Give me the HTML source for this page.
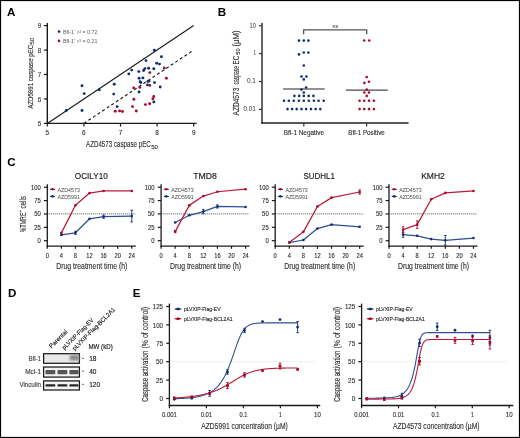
<!DOCTYPE html>
<html><head><meta charset="utf-8"><style>
html,body{margin:0;padding:0;background:#fff;}
svg{display:block;will-change:transform;}
text{font-family:"Liberation Sans", sans-serif;}
</style></head><body>
<svg width="520" height="438" viewBox="0 0 520 438">
<rect x="0" y="0" width="520" height="438" fill="#fff"/>
<text x="7.00" y="16.40" font-size="11.6" fill="#000" font-weight="bold">A</text>
<text x="217.80" y="16.40" font-size="11.6" fill="#000" font-weight="bold">B</text>
<text x="7.30" y="166.10" font-size="11.6" fill="#000" font-weight="bold">C</text>
<text x="8.10" y="297.10" font-size="11.6" fill="#000" font-weight="bold">D</text>
<text x="132.80" y="297.30" font-size="11.6" fill="#000" font-weight="bold">E</text>
<line x1="47.30" y1="23.00" x2="47.30" y2="124.10" stroke="#1a1a1a" stroke-width="1.4" />
<line x1="46.60" y1="123.40" x2="196.60" y2="123.40" stroke="#1a1a1a" stroke-width="1.4" />
<line x1="43.90" y1="123.40" x2="47.30" y2="123.40" stroke="#1a1a1a" stroke-width="1.2" />
<text x="39.50" y="126.15" font-size="7.6" stroke="#2e2e2e" stroke-width="0.12" textLength="3.50" lengthAdjust="spacingAndGlyphs" text-anchor="middle" fill="#2e2e2e">5</text>
<line x1="47.30" y1="123.40" x2="47.30" y2="126.60" stroke="#1a1a1a" stroke-width="1.2" />
<text x="47.30" y="134.90" font-size="7.4" stroke="#2e2e2e" stroke-width="0.12" textLength="3.60" lengthAdjust="spacingAndGlyphs" text-anchor="middle" fill="#2e2e2e">5</text>
<line x1="43.90" y1="98.95" x2="47.30" y2="98.95" stroke="#1a1a1a" stroke-width="1.2" />
<text x="39.50" y="101.70" font-size="7.6" stroke="#2e2e2e" stroke-width="0.12" textLength="3.50" lengthAdjust="spacingAndGlyphs" text-anchor="middle" fill="#2e2e2e">6</text>
<line x1="83.90" y1="123.40" x2="83.90" y2="126.60" stroke="#1a1a1a" stroke-width="1.2" />
<text x="83.90" y="134.90" font-size="7.4" stroke="#2e2e2e" stroke-width="0.12" textLength="3.60" lengthAdjust="spacingAndGlyphs" text-anchor="middle" fill="#2e2e2e">6</text>
<line x1="43.90" y1="74.50" x2="47.30" y2="74.50" stroke="#1a1a1a" stroke-width="1.2" />
<text x="39.50" y="77.25" font-size="7.6" stroke="#2e2e2e" stroke-width="0.12" textLength="3.50" lengthAdjust="spacingAndGlyphs" text-anchor="middle" fill="#2e2e2e">7</text>
<line x1="120.50" y1="123.40" x2="120.50" y2="126.60" stroke="#1a1a1a" stroke-width="1.2" />
<text x="120.50" y="134.90" font-size="7.4" stroke="#2e2e2e" stroke-width="0.12" textLength="3.60" lengthAdjust="spacingAndGlyphs" text-anchor="middle" fill="#2e2e2e">7</text>
<line x1="43.90" y1="50.05" x2="47.30" y2="50.05" stroke="#1a1a1a" stroke-width="1.2" />
<text x="39.50" y="52.80" font-size="7.6" stroke="#2e2e2e" stroke-width="0.12" textLength="3.50" lengthAdjust="spacingAndGlyphs" text-anchor="middle" fill="#2e2e2e">8</text>
<line x1="157.10" y1="123.40" x2="157.10" y2="126.60" stroke="#1a1a1a" stroke-width="1.2" />
<text x="157.10" y="134.90" font-size="7.4" stroke="#2e2e2e" stroke-width="0.12" textLength="3.60" lengthAdjust="spacingAndGlyphs" text-anchor="middle" fill="#2e2e2e">8</text>
<line x1="43.90" y1="25.60" x2="47.30" y2="25.60" stroke="#1a1a1a" stroke-width="1.2" />
<text x="39.50" y="28.35" font-size="7.6" stroke="#2e2e2e" stroke-width="0.12" textLength="3.50" lengthAdjust="spacingAndGlyphs" text-anchor="middle" fill="#2e2e2e">9</text>
<line x1="193.70" y1="123.40" x2="193.70" y2="126.60" stroke="#1a1a1a" stroke-width="1.2" />
<text x="193.70" y="134.90" font-size="7.4" stroke="#2e2e2e" stroke-width="0.12" textLength="3.60" lengthAdjust="spacingAndGlyphs" text-anchor="middle" fill="#2e2e2e">9</text>
<line x1="47.30" y1="123.40" x2="193.70" y2="25.60" stroke="#1a1a1a" stroke-width="1.15" />
<line x1="83.90" y1="123.40" x2="193.70" y2="50.05" stroke="#1a1a1a" stroke-width="1.15" stroke-dasharray="3.0,2.5"/>
<text x="86.00" y="147.10" font-size="9.0" stroke="#2e2e2e" stroke-width="0.12" textLength="64.80" lengthAdjust="spacingAndGlyphs" fill="#2e2e2e">AZD4573 caspase pEC</text>
<text x="151.20" y="148.60" font-size="5.6" stroke="#2e2e2e" stroke-width="0.12" textLength="6.80" lengthAdjust="spacingAndGlyphs" fill="#2e2e2e">50</text>
<text x="32.80" y="108.80" font-size="8.0" stroke="#2e2e2e" stroke-width="0.12" textLength="64.00" lengthAdjust="spacingAndGlyphs" fill="#2e2e2e" transform="rotate(-90 32.80 108.80)">AZD5991 caspase pEC</text>
<text x="34.40" y="44.80" font-size="5.4" stroke="#2e2e2e" stroke-width="0.12" textLength="7.00" lengthAdjust="spacingAndGlyphs" fill="#2e2e2e" transform="rotate(-90 34.40 44.80)">50</text>
<circle cx="59.00" cy="31.60" r="1.3" fill="#122c70"/>
<circle cx="59.00" cy="40.90" r="1.3" fill="#a50a2a"/>
<text x="62.90" y="33.60" font-size="5.6" textLength="34.60" lengthAdjust="spacingAndGlyphs" fill="#5c5c5c">Bfl-1⁻ r² = 0.72</text>
<text x="62.90" y="42.90" font-size="5.6" textLength="34.60" lengthAdjust="spacingAndGlyphs" fill="#5c5c5c">Bfl-1⁺ r² = 0.21</text>
<circle cx="66.30" cy="110.50" r="1.45" fill="#122c70"/>
<circle cx="82.00" cy="85.70" r="1.45" fill="#122c70"/>
<circle cx="84.20" cy="93.60" r="1.45" fill="#122c70"/>
<circle cx="82.00" cy="110.50" r="1.45" fill="#122c70"/>
<circle cx="99.30" cy="89.80" r="1.45" fill="#122c70"/>
<circle cx="114.20" cy="84.20" r="1.45" fill="#122c70"/>
<circle cx="113.70" cy="94.10" r="1.45" fill="#122c70"/>
<circle cx="117.10" cy="106.60" r="1.45" fill="#122c70"/>
<circle cx="154.30" cy="50.30" r="1.45" fill="#122c70"/>
<circle cx="161.40" cy="56.70" r="1.45" fill="#122c70"/>
<circle cx="146.00" cy="60.60" r="1.45" fill="#122c70"/>
<circle cx="156.70" cy="63.30" r="1.45" fill="#122c70"/>
<circle cx="159.50" cy="64.10" r="1.45" fill="#122c70"/>
<circle cx="131.70" cy="70.10" r="1.45" fill="#122c70"/>
<circle cx="128.80" cy="73.90" r="1.45" fill="#122c70"/>
<circle cx="138.80" cy="71.60" r="1.45" fill="#122c70"/>
<circle cx="143.60" cy="70.50" r="1.45" fill="#122c70"/>
<circle cx="144.90" cy="68.60" r="1.45" fill="#122c70"/>
<circle cx="148.60" cy="68.30" r="1.45" fill="#122c70"/>
<circle cx="153.80" cy="68.80" r="1.45" fill="#122c70"/>
<circle cx="139.10" cy="78.20" r="1.45" fill="#122c70"/>
<circle cx="142.90" cy="77.90" r="1.45" fill="#122c70"/>
<circle cx="140.10" cy="81.80" r="1.45" fill="#122c70"/>
<circle cx="140.90" cy="82.60" r="1.45" fill="#122c70"/>
<circle cx="147.90" cy="81.40" r="1.45" fill="#122c70"/>
<circle cx="149.10" cy="81.10" r="1.45" fill="#122c70"/>
<circle cx="154.50" cy="82.60" r="1.45" fill="#122c70"/>
<circle cx="147.40" cy="84.90" r="1.45" fill="#122c70"/>
<circle cx="160.20" cy="87.00" r="1.45" fill="#122c70"/>
<circle cx="139.10" cy="92.00" r="1.45" fill="#122c70"/>
<circle cx="153.80" cy="102.00" r="1.45" fill="#122c70"/>
<circle cx="115.20" cy="111.20" r="1.45" fill="#a50a2a"/>
<circle cx="119.60" cy="110.90" r="1.45" fill="#a50a2a"/>
<circle cx="122.50" cy="111.50" r="1.45" fill="#a50a2a"/>
<circle cx="149.80" cy="72.60" r="1.45" fill="#a50a2a"/>
<circle cx="164.30" cy="68.00" r="1.45" fill="#a50a2a"/>
<circle cx="166.40" cy="78.20" r="1.45" fill="#a50a2a"/>
<circle cx="149.80" cy="85.40" r="1.45" fill="#a50a2a"/>
<circle cx="133.80" cy="87.90" r="1.45" fill="#a50a2a"/>
<circle cx="139.80" cy="87.40" r="1.45" fill="#a50a2a"/>
<circle cx="153.80" cy="96.50" r="1.45" fill="#a50a2a"/>
<circle cx="152.90" cy="98.80" r="1.45" fill="#a50a2a"/>
<circle cx="133.90" cy="99.30" r="1.45" fill="#a50a2a"/>
<circle cx="145.40" cy="104.60" r="1.45" fill="#a50a2a"/>
<circle cx="149.60" cy="103.70" r="1.45" fill="#a50a2a"/>
<circle cx="132.50" cy="106.60" r="1.45" fill="#a50a2a"/>
<circle cx="136.30" cy="111.00" r="1.45" fill="#a50a2a"/>
<line x1="262.00" y1="23.00" x2="262.00" y2="123.80" stroke="#333" stroke-width="1.5" />
<line x1="261.30" y1="123.10" x2="408.60" y2="123.10" stroke="#222" stroke-width="1.5" />
<line x1="259.00" y1="25.79" x2="262.00" y2="25.79" stroke="#333" stroke-width="1.2" />
<text x="249.50" y="27.59" font-size="6.6" stroke="#444" stroke-width="0.04" textLength="6.40" lengthAdjust="spacingAndGlyphs" fill="#444">10</text>
<line x1="259.00" y1="53.66" x2="262.00" y2="53.66" stroke="#333" stroke-width="1.2" />
<text x="253.50" y="55.46" font-size="6.6" stroke="#444" stroke-width="0.04" textLength="2.40" lengthAdjust="spacingAndGlyphs" fill="#444">1</text>
<line x1="259.00" y1="81.53" x2="262.00" y2="81.53" stroke="#333" stroke-width="1.2" />
<text x="246.90" y="83.33" font-size="6.6" stroke="#444" stroke-width="0.04" textLength="9.00" lengthAdjust="spacingAndGlyphs" fill="#444">0.1</text>
<line x1="259.00" y1="109.40" x2="262.00" y2="109.40" stroke="#333" stroke-width="1.2" />
<text x="243.50" y="111.20" font-size="6.6" stroke="#444" stroke-width="0.04" textLength="12.40" lengthAdjust="spacingAndGlyphs" fill="#444">0.01</text>
<line x1="303.80" y1="123.10" x2="303.80" y2="126.60" stroke="#333" stroke-width="1.2" />
<line x1="366.60" y1="123.10" x2="366.60" y2="126.60" stroke="#333" stroke-width="1.2" />
<text x="283.80" y="134.80" font-size="6.6" stroke="#2e2e2e" stroke-width="0.12" textLength="40.20" lengthAdjust="spacingAndGlyphs" fill="#2e2e2e">Bfl-1 Negative</text>
<text x="348.30" y="134.80" font-size="6.6" stroke="#2e2e2e" stroke-width="0.12" textLength="36.50" lengthAdjust="spacingAndGlyphs" fill="#2e2e2e">Bfl-1 Positive</text>
<text x="238.90" y="115.50" font-size="8.9" stroke="#2e2e2e" stroke-width="0.12" textLength="27.80" lengthAdjust="spacingAndGlyphs" fill="#2e2e2e" transform="rotate(-90 238.90 115.50)">AZD4573</text>
<text x="238.90" y="84.40" font-size="8.9" stroke="#2e2e2e" stroke-width="0.12" textLength="18.30" lengthAdjust="spacingAndGlyphs" fill="#2e2e2e" transform="rotate(-90 238.90 84.40)">caspase</text>
<text x="238.90" y="64.40" font-size="8.9" stroke="#2e2e2e" stroke-width="0.12" textLength="8.60" lengthAdjust="spacingAndGlyphs" fill="#2e2e2e" transform="rotate(-90 238.90 64.40)">EC</text>
<path d="M303.6 34.2 V29.9 H366.7 V34.2" fill="none" stroke="#555" stroke-width="1.3"/>
<text x="335.30" y="27.90" font-size="5.4" stroke="#555" stroke-width="0.12" textLength="5.40" lengthAdjust="spacingAndGlyphs" text-anchor="middle" fill="#555">ns</text>
<line x1="283.10" y1="88.90" x2="324.60" y2="88.90" stroke="#6e6e6e" stroke-width="1.5" />
<line x1="346.00" y1="90.10" x2="387.80" y2="90.10" stroke="#484848" stroke-width="1.4" />
<circle cx="299.00" cy="40.60" r="1.3" fill="#122c70"/>
<circle cx="303.80" cy="40.60" r="1.3" fill="#122c70"/>
<circle cx="308.40" cy="40.60" r="1.3" fill="#122c70"/>
<circle cx="303.80" cy="52.50" r="1.3" fill="#122c70"/>
<circle cx="308.40" cy="52.50" r="1.3" fill="#122c70"/>
<circle cx="299.00" cy="54.40" r="1.3" fill="#122c70"/>
<circle cx="303.80" cy="65.50" r="1.3" fill="#122c70"/>
<circle cx="301.50" cy="76.50" r="1.3" fill="#122c70"/>
<circle cx="306.40" cy="76.50" r="1.3" fill="#122c70"/>
<circle cx="303.80" cy="79.40" r="1.3" fill="#122c70"/>
<circle cx="306.10" cy="87.50" r="1.3" fill="#122c70"/>
<circle cx="301.50" cy="89.60" r="1.3" fill="#122c70"/>
<circle cx="303.80" cy="92.50" r="1.3" fill="#122c70"/>
<circle cx="294.40" cy="95.90" r="1.3" fill="#122c70"/>
<circle cx="299.20" cy="95.90" r="1.3" fill="#122c70"/>
<circle cx="303.80" cy="95.90" r="1.3" fill="#122c70"/>
<circle cx="308.70" cy="95.90" r="1.3" fill="#122c70"/>
<circle cx="313.40" cy="95.90" r="1.3" fill="#122c70"/>
<circle cx="284.00" cy="100.80" r="1.3" fill="#122c70"/>
<circle cx="288.80" cy="100.80" r="1.3" fill="#122c70"/>
<circle cx="293.80" cy="100.80" r="1.3" fill="#122c70"/>
<circle cx="298.90" cy="100.80" r="1.3" fill="#122c70"/>
<circle cx="303.80" cy="100.80" r="1.3" fill="#122c70"/>
<circle cx="308.80" cy="100.80" r="1.3" fill="#122c70"/>
<circle cx="313.90" cy="100.80" r="1.3" fill="#122c70"/>
<circle cx="318.60" cy="100.80" r="1.3" fill="#122c70"/>
<circle cx="323.70" cy="100.80" r="1.3" fill="#122c70"/>
<circle cx="287.50" cy="109.10" r="1.3" fill="#122c70"/>
<circle cx="292.10" cy="109.10" r="1.3" fill="#122c70"/>
<circle cx="296.70" cy="109.10" r="1.3" fill="#122c70"/>
<circle cx="301.50" cy="109.10" r="1.3" fill="#122c70"/>
<circle cx="306.10" cy="109.10" r="1.3" fill="#122c70"/>
<circle cx="311.00" cy="109.10" r="1.3" fill="#122c70"/>
<circle cx="315.60" cy="109.10" r="1.3" fill="#122c70"/>
<circle cx="320.30" cy="109.10" r="1.3" fill="#122c70"/>
<circle cx="364.20" cy="40.50" r="1.3" fill="#a50a2a"/>
<circle cx="369.20" cy="40.50" r="1.3" fill="#a50a2a"/>
<circle cx="366.70" cy="77.10" r="1.3" fill="#a50a2a"/>
<circle cx="369.00" cy="81.70" r="1.3" fill="#a50a2a"/>
<circle cx="364.40" cy="82.90" r="1.3" fill="#a50a2a"/>
<circle cx="366.70" cy="89.60" r="1.3" fill="#a50a2a"/>
<circle cx="364.40" cy="92.50" r="1.3" fill="#a50a2a"/>
<circle cx="369.00" cy="92.50" r="1.3" fill="#a50a2a"/>
<circle cx="366.70" cy="95.90" r="1.3" fill="#a50a2a"/>
<circle cx="359.60" cy="100.80" r="1.3" fill="#a50a2a"/>
<circle cx="364.20" cy="100.80" r="1.3" fill="#a50a2a"/>
<circle cx="369.00" cy="100.80" r="1.3" fill="#a50a2a"/>
<circle cx="373.90" cy="100.80" r="1.3" fill="#a50a2a"/>
<circle cx="359.60" cy="109.10" r="1.3" fill="#a50a2a"/>
<circle cx="364.20" cy="109.10" r="1.3" fill="#a50a2a"/>
<circle cx="369.00" cy="109.10" r="1.3" fill="#a50a2a"/>
<circle cx="373.90" cy="109.10" r="1.3" fill="#a50a2a"/>
<text x="240.00" y="54.70" font-size="5.0" stroke="#2e2e2e" stroke-width="0.12" textLength="6.20" lengthAdjust="spacingAndGlyphs" fill="#2e2e2e" transform="rotate(-90 240.00 54.70)">50</text>
<text x="238.90" y="46.60" font-size="8.9" stroke="#2e2e2e" stroke-width="0.12" textLength="16.10" lengthAdjust="spacingAndGlyphs" fill="#2e2e2e" transform="rotate(-90 238.90 46.60)">(µM)</text>
<line x1="47.30" y1="184.30" x2="47.30" y2="246.70" stroke="#1a1a1a" stroke-width="1.3" />
<line x1="46.70" y1="246.10" x2="135.80" y2="246.10" stroke="#1a1a1a" stroke-width="1.4" />
<line x1="43.90" y1="240.70" x2="47.30" y2="240.70" stroke="#1a1a1a" stroke-width="1.2" />
<text x="37.50" y="243.00" font-size="6.4" stroke="#2e2e2e" stroke-width="0.12" textLength="3.30" lengthAdjust="spacingAndGlyphs" fill="#2e2e2e">0</text>
<line x1="43.90" y1="227.32" x2="47.30" y2="227.32" stroke="#1a1a1a" stroke-width="1.2" />
<text x="34.20" y="229.62" font-size="6.4" stroke="#2e2e2e" stroke-width="0.12" textLength="6.60" lengthAdjust="spacingAndGlyphs" fill="#2e2e2e">25</text>
<line x1="43.90" y1="213.95" x2="47.30" y2="213.95" stroke="#1a1a1a" stroke-width="1.2" />
<text x="34.20" y="216.25" font-size="6.4" stroke="#2e2e2e" stroke-width="0.12" textLength="6.60" lengthAdjust="spacingAndGlyphs" fill="#2e2e2e">50</text>
<line x1="43.90" y1="200.57" x2="47.30" y2="200.57" stroke="#1a1a1a" stroke-width="1.2" />
<text x="34.20" y="202.88" font-size="6.4" stroke="#2e2e2e" stroke-width="0.12" textLength="6.60" lengthAdjust="spacingAndGlyphs" fill="#2e2e2e">75</text>
<line x1="43.90" y1="187.20" x2="47.30" y2="187.20" stroke="#1a1a1a" stroke-width="1.2" />
<text x="31.00" y="189.50" font-size="6.4" stroke="#2e2e2e" stroke-width="0.12" textLength="9.80" lengthAdjust="spacingAndGlyphs" fill="#2e2e2e">100</text>
<line x1="47.30" y1="246.10" x2="47.30" y2="248.80" stroke="#1a1a1a" stroke-width="1.2" />
<text x="47.30" y="258.20" font-size="6.3" stroke="#2e2e2e" stroke-width="0.12" textLength="3.20" lengthAdjust="spacingAndGlyphs" text-anchor="middle" fill="#2e2e2e">0</text>
<line x1="61.38" y1="246.10" x2="61.38" y2="248.80" stroke="#1a1a1a" stroke-width="1.2" />
<text x="61.38" y="258.20" font-size="6.3" stroke="#2e2e2e" stroke-width="0.12" textLength="3.20" lengthAdjust="spacingAndGlyphs" text-anchor="middle" fill="#2e2e2e">4</text>
<line x1="75.46" y1="246.10" x2="75.46" y2="248.80" stroke="#1a1a1a" stroke-width="1.2" />
<text x="75.46" y="258.20" font-size="6.3" stroke="#2e2e2e" stroke-width="0.12" textLength="3.20" lengthAdjust="spacingAndGlyphs" text-anchor="middle" fill="#2e2e2e">8</text>
<line x1="89.54" y1="246.10" x2="89.54" y2="248.80" stroke="#1a1a1a" stroke-width="1.2" />
<text x="89.54" y="258.20" font-size="6.3" stroke="#2e2e2e" stroke-width="0.12" textLength="6.40" lengthAdjust="spacingAndGlyphs" text-anchor="middle" fill="#2e2e2e">12</text>
<line x1="103.62" y1="246.10" x2="103.62" y2="248.80" stroke="#1a1a1a" stroke-width="1.2" />
<text x="103.62" y="258.20" font-size="6.3" stroke="#2e2e2e" stroke-width="0.12" textLength="6.40" lengthAdjust="spacingAndGlyphs" text-anchor="middle" fill="#2e2e2e">16</text>
<line x1="117.70" y1="246.10" x2="117.70" y2="248.80" stroke="#1a1a1a" stroke-width="1.2" />
<text x="117.70" y="258.20" font-size="6.3" stroke="#2e2e2e" stroke-width="0.12" textLength="6.40" lengthAdjust="spacingAndGlyphs" text-anchor="middle" fill="#2e2e2e">20</text>
<line x1="131.78" y1="246.10" x2="131.78" y2="248.80" stroke="#1a1a1a" stroke-width="1.2" />
<text x="131.78" y="258.20" font-size="6.3" stroke="#2e2e2e" stroke-width="0.12" textLength="6.40" lengthAdjust="spacingAndGlyphs" text-anchor="middle" fill="#2e2e2e">24</text>
<text x="91.30" y="179.20" font-size="8.9" stroke="#1e1e1e" stroke-width="0.18" textLength="33.00" lengthAdjust="spacingAndGlyphs" text-anchor="middle" fill="#1e1e1e">OCILY10</text>
<text x="56.30" y="268.80" font-size="8.2" stroke="#2e2e2e" stroke-width="0.12" textLength="71.00" lengthAdjust="spacingAndGlyphs" fill="#2e2e2e">Drug treatment time (h)</text>
<line x1="48.70" y1="213.95" x2="135.30" y2="213.95" stroke="#707070" stroke-width="1.3" stroke-dasharray="1,1"/>
<line x1="50.10" y1="189.30" x2="55.00" y2="189.30" stroke="#a50a2a" stroke-width="1.0" />
<path d="M49.90 189.3 L52.50 188.0 L55.10 189.3 L52.50 190.60000000000002Z" fill="#a50a2a"/>
<text x="57.50" y="191.80" font-size="6.0" textLength="22.40" lengthAdjust="spacingAndGlyphs" fill="#474747">AZD4573</text>
<line x1="50.10" y1="196.40" x2="55.00" y2="196.40" stroke="#122c70" stroke-width="1.0" />
<path d="M49.90 196.4 L52.50 195.1 L55.10 196.4 L52.50 197.70000000000002Z" fill="#122c70"/>
<text x="57.50" y="198.90" font-size="6.0" textLength="22.40" lengthAdjust="spacingAndGlyphs" fill="#474747">AZD5991</text>
<polyline points="61.38,234.92 75.46,232.78 89.54,218.76 103.62,216.62 131.78,216.09" fill="none" stroke="#2f4f92" stroke-width="1.25" stroke-linejoin="round" />
<circle cx="61.38" cy="234.92" r="1.3" fill="#122c70"/>
<line x1="75.46" y1="231.18" x2="75.46" y2="234.39" stroke="#122c70" stroke-width="0.9" />
<line x1="74.26" y1="231.18" x2="76.66" y2="231.18" stroke="#122c70" stroke-width="0.9" />
<line x1="74.26" y1="234.39" x2="76.66" y2="234.39" stroke="#122c70" stroke-width="0.9" />
<circle cx="75.46" cy="232.78" r="1.3" fill="#122c70"/>
<circle cx="89.54" cy="218.76" r="1.3" fill="#122c70"/>
<line x1="103.62" y1="215.02" x2="103.62" y2="218.23" stroke="#122c70" stroke-width="0.9" />
<line x1="102.42" y1="215.02" x2="104.82" y2="215.02" stroke="#122c70" stroke-width="0.9" />
<line x1="102.42" y1="218.23" x2="104.82" y2="218.23" stroke="#122c70" stroke-width="0.9" />
<circle cx="103.62" cy="216.62" r="1.3" fill="#122c70"/>
<line x1="131.78" y1="210.20" x2="131.78" y2="221.97" stroke="#122c70" stroke-width="0.9" />
<line x1="130.58" y1="210.20" x2="132.98" y2="210.20" stroke="#122c70" stroke-width="0.9" />
<line x1="130.58" y1="221.97" x2="132.98" y2="221.97" stroke="#122c70" stroke-width="0.9" />
<circle cx="131.78" cy="216.09" r="1.3" fill="#122c70"/>
<polyline points="61.38,232.89 75.46,205.23 89.54,193.08 103.62,190.94 131.78,190.94" fill="none" stroke="#bd1a3c" stroke-width="1.25" stroke-linejoin="round" />
<circle cx="61.38" cy="232.89" r="1.3" fill="#a50a2a"/>
<circle cx="75.46" cy="205.23" r="1.3" fill="#a50a2a"/>
<circle cx="89.54" cy="193.08" r="1.3" fill="#a50a2a"/>
<circle cx="103.62" cy="190.94" r="1.3" fill="#a50a2a"/>
<circle cx="131.78" cy="190.94" r="1.3" fill="#a50a2a"/>
<line x1="161.10" y1="184.30" x2="161.10" y2="246.70" stroke="#1a1a1a" stroke-width="1.3" />
<line x1="160.50" y1="246.10" x2="249.60" y2="246.10" stroke="#1a1a1a" stroke-width="1.4" />
<line x1="157.70" y1="240.70" x2="161.10" y2="240.70" stroke="#1a1a1a" stroke-width="1.2" />
<text x="151.30" y="243.00" font-size="6.4" stroke="#2e2e2e" stroke-width="0.12" textLength="3.30" lengthAdjust="spacingAndGlyphs" fill="#2e2e2e">0</text>
<line x1="157.70" y1="227.32" x2="161.10" y2="227.32" stroke="#1a1a1a" stroke-width="1.2" />
<text x="148.00" y="229.62" font-size="6.4" stroke="#2e2e2e" stroke-width="0.12" textLength="6.60" lengthAdjust="spacingAndGlyphs" fill="#2e2e2e">25</text>
<line x1="157.70" y1="213.95" x2="161.10" y2="213.95" stroke="#1a1a1a" stroke-width="1.2" />
<text x="148.00" y="216.25" font-size="6.4" stroke="#2e2e2e" stroke-width="0.12" textLength="6.60" lengthAdjust="spacingAndGlyphs" fill="#2e2e2e">50</text>
<line x1="157.70" y1="200.57" x2="161.10" y2="200.57" stroke="#1a1a1a" stroke-width="1.2" />
<text x="148.00" y="202.88" font-size="6.4" stroke="#2e2e2e" stroke-width="0.12" textLength="6.60" lengthAdjust="spacingAndGlyphs" fill="#2e2e2e">75</text>
<line x1="157.70" y1="187.20" x2="161.10" y2="187.20" stroke="#1a1a1a" stroke-width="1.2" />
<text x="144.80" y="189.50" font-size="6.4" stroke="#2e2e2e" stroke-width="0.12" textLength="9.80" lengthAdjust="spacingAndGlyphs" fill="#2e2e2e">100</text>
<line x1="161.10" y1="246.10" x2="161.10" y2="248.80" stroke="#1a1a1a" stroke-width="1.2" />
<text x="161.10" y="258.20" font-size="6.3" stroke="#2e2e2e" stroke-width="0.12" textLength="3.20" lengthAdjust="spacingAndGlyphs" text-anchor="middle" fill="#2e2e2e">0</text>
<line x1="175.18" y1="246.10" x2="175.18" y2="248.80" stroke="#1a1a1a" stroke-width="1.2" />
<text x="175.18" y="258.20" font-size="6.3" stroke="#2e2e2e" stroke-width="0.12" textLength="3.20" lengthAdjust="spacingAndGlyphs" text-anchor="middle" fill="#2e2e2e">4</text>
<line x1="189.26" y1="246.10" x2="189.26" y2="248.80" stroke="#1a1a1a" stroke-width="1.2" />
<text x="189.26" y="258.20" font-size="6.3" stroke="#2e2e2e" stroke-width="0.12" textLength="3.20" lengthAdjust="spacingAndGlyphs" text-anchor="middle" fill="#2e2e2e">8</text>
<line x1="203.34" y1="246.10" x2="203.34" y2="248.80" stroke="#1a1a1a" stroke-width="1.2" />
<text x="203.34" y="258.20" font-size="6.3" stroke="#2e2e2e" stroke-width="0.12" textLength="6.40" lengthAdjust="spacingAndGlyphs" text-anchor="middle" fill="#2e2e2e">12</text>
<line x1="217.42" y1="246.10" x2="217.42" y2="248.80" stroke="#1a1a1a" stroke-width="1.2" />
<text x="217.42" y="258.20" font-size="6.3" stroke="#2e2e2e" stroke-width="0.12" textLength="6.40" lengthAdjust="spacingAndGlyphs" text-anchor="middle" fill="#2e2e2e">16</text>
<line x1="231.50" y1="246.10" x2="231.50" y2="248.80" stroke="#1a1a1a" stroke-width="1.2" />
<text x="231.50" y="258.20" font-size="6.3" stroke="#2e2e2e" stroke-width="0.12" textLength="6.40" lengthAdjust="spacingAndGlyphs" text-anchor="middle" fill="#2e2e2e">20</text>
<line x1="245.58" y1="246.10" x2="245.58" y2="248.80" stroke="#1a1a1a" stroke-width="1.2" />
<text x="245.58" y="258.20" font-size="6.3" stroke="#2e2e2e" stroke-width="0.12" textLength="6.40" lengthAdjust="spacingAndGlyphs" text-anchor="middle" fill="#2e2e2e">24</text>
<text x="205.10" y="179.20" font-size="8.9" stroke="#1e1e1e" stroke-width="0.18" textLength="23.70" lengthAdjust="spacingAndGlyphs" text-anchor="middle" fill="#1e1e1e">TMD8</text>
<text x="170.10" y="268.80" font-size="8.2" stroke="#2e2e2e" stroke-width="0.12" textLength="71.00" lengthAdjust="spacingAndGlyphs" fill="#2e2e2e">Drug treatment time (h)</text>
<line x1="162.70" y1="213.95" x2="249.10" y2="213.95" stroke="#707070" stroke-width="1.3" stroke-dasharray="1,1"/>
<line x1="163.90" y1="189.30" x2="168.80" y2="189.30" stroke="#a50a2a" stroke-width="1.0" />
<path d="M163.70 189.3 L166.30 188.0 L168.90 189.3 L166.30 190.60000000000002Z" fill="#a50a2a"/>
<text x="171.30" y="191.80" font-size="6.0" textLength="22.40" lengthAdjust="spacingAndGlyphs" fill="#474747">AZD4573</text>
<line x1="163.90" y1="196.40" x2="168.80" y2="196.40" stroke="#122c70" stroke-width="1.0" />
<path d="M163.70 196.4 L166.30 195.1 L168.90 196.4 L166.30 197.70000000000002Z" fill="#122c70"/>
<text x="171.30" y="198.90" font-size="6.0" textLength="22.40" lengthAdjust="spacingAndGlyphs" fill="#474747">AZD5991</text>
<polyline points="175.18,222.51 189.26,215.29 203.34,211.54 217.42,206.46 245.58,206.99" fill="none" stroke="#2f4f92" stroke-width="1.25" stroke-linejoin="round" />
<circle cx="175.18" cy="222.51" r="1.3" fill="#122c70"/>
<circle cx="189.26" cy="215.29" r="1.3" fill="#122c70"/>
<line x1="203.34" y1="209.40" x2="203.34" y2="213.68" stroke="#122c70" stroke-width="0.9" />
<line x1="202.14" y1="209.40" x2="204.54" y2="209.40" stroke="#122c70" stroke-width="0.9" />
<line x1="202.14" y1="213.68" x2="204.54" y2="213.68" stroke="#122c70" stroke-width="0.9" />
<circle cx="203.34" cy="211.54" r="1.3" fill="#122c70"/>
<line x1="217.42" y1="204.85" x2="217.42" y2="208.06" stroke="#122c70" stroke-width="0.9" />
<line x1="216.22" y1="204.85" x2="218.62" y2="204.85" stroke="#122c70" stroke-width="0.9" />
<line x1="216.22" y1="208.06" x2="218.62" y2="208.06" stroke="#122c70" stroke-width="0.9" />
<circle cx="217.42" cy="206.46" r="1.3" fill="#122c70"/>
<circle cx="245.58" cy="206.99" r="1.3" fill="#122c70"/>
<polyline points="175.18,231.60 189.26,205.39 203.34,196.03 217.42,191.75 245.58,189.18" fill="none" stroke="#bd1a3c" stroke-width="1.25" stroke-linejoin="round" />
<line x1="175.18" y1="230.53" x2="175.18" y2="232.67" stroke="#a50a2a" stroke-width="0.9" />
<line x1="173.98" y1="230.53" x2="176.38" y2="230.53" stroke="#a50a2a" stroke-width="0.9" />
<line x1="173.98" y1="232.67" x2="176.38" y2="232.67" stroke="#a50a2a" stroke-width="0.9" />
<circle cx="175.18" cy="231.60" r="1.3" fill="#a50a2a"/>
<circle cx="189.26" cy="205.39" r="1.3" fill="#a50a2a"/>
<circle cx="203.34" cy="196.03" r="1.3" fill="#a50a2a"/>
<circle cx="217.42" cy="191.75" r="1.3" fill="#a50a2a"/>
<circle cx="245.58" cy="189.18" r="1.3" fill="#a50a2a"/>
<line x1="275.20" y1="184.30" x2="275.20" y2="246.70" stroke="#1a1a1a" stroke-width="1.3" />
<line x1="274.60" y1="246.10" x2="363.70" y2="246.10" stroke="#1a1a1a" stroke-width="1.4" />
<line x1="271.80" y1="240.70" x2="275.20" y2="240.70" stroke="#1a1a1a" stroke-width="1.2" />
<text x="265.40" y="243.00" font-size="6.4" stroke="#2e2e2e" stroke-width="0.12" textLength="3.30" lengthAdjust="spacingAndGlyphs" fill="#2e2e2e">0</text>
<line x1="271.80" y1="227.32" x2="275.20" y2="227.32" stroke="#1a1a1a" stroke-width="1.2" />
<text x="262.10" y="229.62" font-size="6.4" stroke="#2e2e2e" stroke-width="0.12" textLength="6.60" lengthAdjust="spacingAndGlyphs" fill="#2e2e2e">25</text>
<line x1="271.80" y1="213.95" x2="275.20" y2="213.95" stroke="#1a1a1a" stroke-width="1.2" />
<text x="262.10" y="216.25" font-size="6.4" stroke="#2e2e2e" stroke-width="0.12" textLength="6.60" lengthAdjust="spacingAndGlyphs" fill="#2e2e2e">50</text>
<line x1="271.80" y1="200.57" x2="275.20" y2="200.57" stroke="#1a1a1a" stroke-width="1.2" />
<text x="262.10" y="202.88" font-size="6.4" stroke="#2e2e2e" stroke-width="0.12" textLength="6.60" lengthAdjust="spacingAndGlyphs" fill="#2e2e2e">75</text>
<line x1="271.80" y1="187.20" x2="275.20" y2="187.20" stroke="#1a1a1a" stroke-width="1.2" />
<text x="258.90" y="189.50" font-size="6.4" stroke="#2e2e2e" stroke-width="0.12" textLength="9.80" lengthAdjust="spacingAndGlyphs" fill="#2e2e2e">100</text>
<line x1="275.20" y1="246.10" x2="275.20" y2="248.80" stroke="#1a1a1a" stroke-width="1.2" />
<text x="275.20" y="258.20" font-size="6.3" stroke="#2e2e2e" stroke-width="0.12" textLength="3.20" lengthAdjust="spacingAndGlyphs" text-anchor="middle" fill="#2e2e2e">0</text>
<line x1="289.28" y1="246.10" x2="289.28" y2="248.80" stroke="#1a1a1a" stroke-width="1.2" />
<text x="289.28" y="258.20" font-size="6.3" stroke="#2e2e2e" stroke-width="0.12" textLength="3.20" lengthAdjust="spacingAndGlyphs" text-anchor="middle" fill="#2e2e2e">4</text>
<line x1="303.36" y1="246.10" x2="303.36" y2="248.80" stroke="#1a1a1a" stroke-width="1.2" />
<text x="303.36" y="258.20" font-size="6.3" stroke="#2e2e2e" stroke-width="0.12" textLength="3.20" lengthAdjust="spacingAndGlyphs" text-anchor="middle" fill="#2e2e2e">8</text>
<line x1="317.44" y1="246.10" x2="317.44" y2="248.80" stroke="#1a1a1a" stroke-width="1.2" />
<text x="317.44" y="258.20" font-size="6.3" stroke="#2e2e2e" stroke-width="0.12" textLength="6.40" lengthAdjust="spacingAndGlyphs" text-anchor="middle" fill="#2e2e2e">12</text>
<line x1="331.52" y1="246.10" x2="331.52" y2="248.80" stroke="#1a1a1a" stroke-width="1.2" />
<text x="331.52" y="258.20" font-size="6.3" stroke="#2e2e2e" stroke-width="0.12" textLength="6.40" lengthAdjust="spacingAndGlyphs" text-anchor="middle" fill="#2e2e2e">16</text>
<line x1="345.60" y1="246.10" x2="345.60" y2="248.80" stroke="#1a1a1a" stroke-width="1.2" />
<text x="345.60" y="258.20" font-size="6.3" stroke="#2e2e2e" stroke-width="0.12" textLength="6.40" lengthAdjust="spacingAndGlyphs" text-anchor="middle" fill="#2e2e2e">20</text>
<line x1="359.68" y1="246.10" x2="359.68" y2="248.80" stroke="#1a1a1a" stroke-width="1.2" />
<text x="359.68" y="258.20" font-size="6.3" stroke="#2e2e2e" stroke-width="0.12" textLength="6.40" lengthAdjust="spacingAndGlyphs" text-anchor="middle" fill="#2e2e2e">24</text>
<text x="319.20" y="179.20" font-size="8.9" stroke="#1e1e1e" stroke-width="0.18" textLength="31.50" lengthAdjust="spacingAndGlyphs" text-anchor="middle" fill="#1e1e1e">SUDHL1</text>
<text x="284.20" y="268.80" font-size="8.2" stroke="#2e2e2e" stroke-width="0.12" textLength="71.00" lengthAdjust="spacingAndGlyphs" fill="#2e2e2e">Drug treatment time (h)</text>
<line x1="276.70" y1="213.95" x2="363.20" y2="213.95" stroke="#707070" stroke-width="1.3" stroke-dasharray="1,1"/>
<line x1="278.00" y1="189.30" x2="282.90" y2="189.30" stroke="#a50a2a" stroke-width="1.0" />
<path d="M277.80 189.3 L280.40 188.0 L283.00 189.3 L280.40 190.60000000000002Z" fill="#a50a2a"/>
<text x="285.40" y="191.80" font-size="6.0" textLength="22.40" lengthAdjust="spacingAndGlyphs" fill="#474747">AZD4573</text>
<line x1="278.00" y1="196.40" x2="282.90" y2="196.40" stroke="#122c70" stroke-width="1.0" />
<path d="M277.80 196.4 L280.40 195.1 L283.00 196.4 L280.40 197.70000000000002Z" fill="#122c70"/>
<text x="285.40" y="198.90" font-size="6.0" textLength="22.40" lengthAdjust="spacingAndGlyphs" fill="#474747">AZD5991</text>
<polyline points="289.28,242.57 303.36,240.00 317.44,228.56 331.52,224.65 359.68,226.79" fill="none" stroke="#2f4f92" stroke-width="1.25" stroke-linejoin="round" />
<circle cx="289.28" cy="242.57" r="1.3" fill="#122c70"/>
<circle cx="303.36" cy="240.00" r="1.3" fill="#122c70"/>
<circle cx="317.44" cy="228.56" r="1.3" fill="#122c70"/>
<circle cx="331.52" cy="224.65" r="1.3" fill="#122c70"/>
<circle cx="359.68" cy="226.79" r="1.3" fill="#122c70"/>
<polyline points="289.28,242.57 303.36,231.87 317.44,206.46 331.52,197.63 359.68,192.01" fill="none" stroke="#bd1a3c" stroke-width="1.25" stroke-linejoin="round" />
<circle cx="289.28" cy="242.57" r="1.3" fill="#a50a2a"/>
<circle cx="303.36" cy="231.87" r="1.3" fill="#a50a2a"/>
<circle cx="317.44" cy="206.46" r="1.3" fill="#a50a2a"/>
<circle cx="331.52" cy="197.63" r="1.3" fill="#a50a2a"/>
<line x1="359.68" y1="189.88" x2="359.68" y2="194.15" stroke="#a50a2a" stroke-width="0.9" />
<line x1="358.48" y1="189.88" x2="360.88" y2="189.88" stroke="#a50a2a" stroke-width="0.9" />
<line x1="358.48" y1="194.15" x2="360.88" y2="194.15" stroke="#a50a2a" stroke-width="0.9" />
<circle cx="359.68" cy="192.01" r="1.3" fill="#a50a2a"/>
<line x1="389.00" y1="184.30" x2="389.00" y2="246.70" stroke="#1a1a1a" stroke-width="1.3" />
<line x1="388.40" y1="246.10" x2="477.50" y2="246.10" stroke="#1a1a1a" stroke-width="1.4" />
<line x1="385.60" y1="240.70" x2="389.00" y2="240.70" stroke="#1a1a1a" stroke-width="1.2" />
<text x="379.20" y="243.00" font-size="6.4" stroke="#2e2e2e" stroke-width="0.12" textLength="3.30" lengthAdjust="spacingAndGlyphs" fill="#2e2e2e">0</text>
<line x1="385.60" y1="227.32" x2="389.00" y2="227.32" stroke="#1a1a1a" stroke-width="1.2" />
<text x="375.90" y="229.62" font-size="6.4" stroke="#2e2e2e" stroke-width="0.12" textLength="6.60" lengthAdjust="spacingAndGlyphs" fill="#2e2e2e">25</text>
<line x1="385.60" y1="213.95" x2="389.00" y2="213.95" stroke="#1a1a1a" stroke-width="1.2" />
<text x="375.90" y="216.25" font-size="6.4" stroke="#2e2e2e" stroke-width="0.12" textLength="6.60" lengthAdjust="spacingAndGlyphs" fill="#2e2e2e">50</text>
<line x1="385.60" y1="200.57" x2="389.00" y2="200.57" stroke="#1a1a1a" stroke-width="1.2" />
<text x="375.90" y="202.88" font-size="6.4" stroke="#2e2e2e" stroke-width="0.12" textLength="6.60" lengthAdjust="spacingAndGlyphs" fill="#2e2e2e">75</text>
<line x1="385.60" y1="187.20" x2="389.00" y2="187.20" stroke="#1a1a1a" stroke-width="1.2" />
<text x="372.70" y="189.50" font-size="6.4" stroke="#2e2e2e" stroke-width="0.12" textLength="9.80" lengthAdjust="spacingAndGlyphs" fill="#2e2e2e">100</text>
<line x1="389.00" y1="246.10" x2="389.00" y2="248.80" stroke="#1a1a1a" stroke-width="1.2" />
<text x="389.00" y="258.20" font-size="6.3" stroke="#2e2e2e" stroke-width="0.12" textLength="3.20" lengthAdjust="spacingAndGlyphs" text-anchor="middle" fill="#2e2e2e">0</text>
<line x1="403.08" y1="246.10" x2="403.08" y2="248.80" stroke="#1a1a1a" stroke-width="1.2" />
<text x="403.08" y="258.20" font-size="6.3" stroke="#2e2e2e" stroke-width="0.12" textLength="3.20" lengthAdjust="spacingAndGlyphs" text-anchor="middle" fill="#2e2e2e">4</text>
<line x1="417.16" y1="246.10" x2="417.16" y2="248.80" stroke="#1a1a1a" stroke-width="1.2" />
<text x="417.16" y="258.20" font-size="6.3" stroke="#2e2e2e" stroke-width="0.12" textLength="3.20" lengthAdjust="spacingAndGlyphs" text-anchor="middle" fill="#2e2e2e">8</text>
<line x1="431.24" y1="246.10" x2="431.24" y2="248.80" stroke="#1a1a1a" stroke-width="1.2" />
<text x="431.24" y="258.20" font-size="6.3" stroke="#2e2e2e" stroke-width="0.12" textLength="6.40" lengthAdjust="spacingAndGlyphs" text-anchor="middle" fill="#2e2e2e">12</text>
<line x1="445.32" y1="246.10" x2="445.32" y2="248.80" stroke="#1a1a1a" stroke-width="1.2" />
<text x="445.32" y="258.20" font-size="6.3" stroke="#2e2e2e" stroke-width="0.12" textLength="6.40" lengthAdjust="spacingAndGlyphs" text-anchor="middle" fill="#2e2e2e">16</text>
<line x1="459.40" y1="246.10" x2="459.40" y2="248.80" stroke="#1a1a1a" stroke-width="1.2" />
<text x="459.40" y="258.20" font-size="6.3" stroke="#2e2e2e" stroke-width="0.12" textLength="6.40" lengthAdjust="spacingAndGlyphs" text-anchor="middle" fill="#2e2e2e">20</text>
<line x1="473.48" y1="246.10" x2="473.48" y2="248.80" stroke="#1a1a1a" stroke-width="1.2" />
<text x="473.48" y="258.20" font-size="6.3" stroke="#2e2e2e" stroke-width="0.12" textLength="6.40" lengthAdjust="spacingAndGlyphs" text-anchor="middle" fill="#2e2e2e">24</text>
<text x="433.00" y="179.20" font-size="8.9" stroke="#1e1e1e" stroke-width="0.18" textLength="23.70" lengthAdjust="spacingAndGlyphs" text-anchor="middle" fill="#1e1e1e">KMH2</text>
<text x="398.00" y="268.80" font-size="8.2" stroke="#2e2e2e" stroke-width="0.12" textLength="71.00" lengthAdjust="spacingAndGlyphs" fill="#2e2e2e">Drug treatment time (h)</text>
<line x1="390.70" y1="213.95" x2="477.00" y2="213.95" stroke="#707070" stroke-width="1.3" stroke-dasharray="1,1"/>
<line x1="391.80" y1="189.30" x2="396.70" y2="189.30" stroke="#a50a2a" stroke-width="1.0" />
<path d="M391.60 189.3 L394.20 188.0 L396.80 189.3 L394.20 190.60000000000002Z" fill="#a50a2a"/>
<text x="399.20" y="191.80" font-size="6.0" textLength="22.40" lengthAdjust="spacingAndGlyphs" fill="#474747">AZD4573</text>
<line x1="391.80" y1="196.40" x2="396.70" y2="196.40" stroke="#122c70" stroke-width="1.0" />
<path d="M391.60 196.4 L394.20 195.1 L396.80 196.4 L394.20 197.70000000000002Z" fill="#122c70"/>
<text x="399.20" y="198.90" font-size="6.0" textLength="22.40" lengthAdjust="spacingAndGlyphs" fill="#474747">AZD5991</text>
<polyline points="403.08,234.60 417.16,235.78 431.24,239.09 445.32,240.33 473.48,238.02" fill="none" stroke="#2f4f92" stroke-width="1.25" stroke-linejoin="round" />
<line x1="403.08" y1="231.93" x2="403.08" y2="237.28" stroke="#122c70" stroke-width="0.9" />
<line x1="401.88" y1="231.93" x2="404.28" y2="231.93" stroke="#122c70" stroke-width="0.9" />
<line x1="401.88" y1="237.28" x2="404.28" y2="237.28" stroke="#122c70" stroke-width="0.9" />
<circle cx="403.08" cy="234.60" r="1.3" fill="#122c70"/>
<circle cx="417.16" cy="235.78" r="1.3" fill="#122c70"/>
<circle cx="431.24" cy="239.09" r="1.3" fill="#122c70"/>
<line x1="445.32" y1="235.51" x2="445.32" y2="245.14" stroke="#122c70" stroke-width="0.9" />
<line x1="444.12" y1="235.51" x2="446.52" y2="235.51" stroke="#122c70" stroke-width="0.9" />
<line x1="444.12" y1="245.14" x2="446.52" y2="245.14" stroke="#122c70" stroke-width="0.9" />
<circle cx="445.32" cy="240.33" r="1.3" fill="#122c70"/>
<circle cx="473.48" cy="238.02" r="1.3" fill="#122c70"/>
<polyline points="403.08,229.68 417.16,224.65 431.24,199.24 445.32,192.92 473.48,190.94" fill="none" stroke="#bd1a3c" stroke-width="1.25" stroke-linejoin="round" />
<line x1="403.08" y1="226.74" x2="403.08" y2="232.62" stroke="#a50a2a" stroke-width="0.9" />
<line x1="401.88" y1="226.74" x2="404.28" y2="226.74" stroke="#a50a2a" stroke-width="0.9" />
<line x1="401.88" y1="232.62" x2="404.28" y2="232.62" stroke="#a50a2a" stroke-width="0.9" />
<circle cx="403.08" cy="229.68" r="1.3" fill="#a50a2a"/>
<line x1="417.16" y1="220.90" x2="417.16" y2="228.39" stroke="#a50a2a" stroke-width="0.9" />
<line x1="415.96" y1="220.90" x2="418.36" y2="220.90" stroke="#a50a2a" stroke-width="0.9" />
<line x1="415.96" y1="228.39" x2="418.36" y2="228.39" stroke="#a50a2a" stroke-width="0.9" />
<circle cx="417.16" cy="224.65" r="1.3" fill="#a50a2a"/>
<circle cx="431.24" cy="199.24" r="1.3" fill="#a50a2a"/>
<circle cx="445.32" cy="192.92" r="1.3" fill="#a50a2a"/>
<circle cx="473.48" cy="190.94" r="1.3" fill="#a50a2a"/>
<text x="25.90" y="232.20" font-size="8.8" stroke="#2e2e2e" stroke-width="0.12" textLength="19.60" lengthAdjust="spacingAndGlyphs" fill="#2e2e2e" transform="rotate(-90 25.90 232.20)">%TMRE</text>
<text x="21.60" y="212.40" font-size="5.5" stroke="#2e2e2e" stroke-width="0.12" textLength="2.80" lengthAdjust="spacingAndGlyphs" fill="#2e2e2e" transform="rotate(-90 21.60 212.40)">+</text>
<text x="25.90" y="208.60" font-size="8.8" stroke="#2e2e2e" stroke-width="0.12" textLength="12.60" lengthAdjust="spacingAndGlyphs" fill="#2e2e2e" transform="rotate(-90 25.90 208.60)">cells</text>
<text x="51.60" y="348.60" font-size="6.2" stroke="#333" stroke-width="0.12" textLength="23.00" lengthAdjust="spacingAndGlyphs" transform="rotate(-45 51.60 348.60)">Parental</text>
<text x="64.60" y="350.00" font-size="6.2" stroke="#333" stroke-width="0.12" textLength="41.50" lengthAdjust="spacingAndGlyphs" transform="rotate(-45 64.60 350.00)">pLVXIP-Flag-EV</text>
<text x="74.80" y="350.80" font-size="6.2" stroke="#333" stroke-width="0.12" textLength="57.80" lengthAdjust="spacingAndGlyphs" transform="rotate(-45 74.80 350.80)">pLVXIP-Flag-BCL2A1</text>
<text x="88.40" y="349.10" font-size="6.8" stroke="#333" stroke-width="0.12" textLength="24.40" lengthAdjust="spacingAndGlyphs">MW (kD)</text>
<defs><linearGradient id="bg1" x1="0" x2="1"><stop offset="0" stop-color="#ededed"/><stop offset="1" stop-color="#e6e6e6"/></linearGradient><filter id="blur1" x="-50%" y="-50%" width="200%" height="200%"><feGaussianBlur stdDeviation="0.55"/></filter></defs>
<rect x="43.6" y="353.70" width="35.8" height="9.60" fill="#e9e9e9" stroke="#1a1a1a" stroke-width="1.25"/>
<rect x="43.6" y="367.00" width="35.8" height="10.10" fill="#f1f1f1" stroke="#1a1a1a" stroke-width="1.25"/>
<rect x="43.6" y="380.90" width="35.8" height="9.10" fill="#f3f3f3" stroke="#1a1a1a" stroke-width="1.25"/>
<filter id="blur2" x="-50%" y="-50%" width="200%" height="200%"><feGaussianBlur stdDeviation="1.3"/></filter>
<rect x="69.6" y="354.9" width="9.6" height="5.6" rx="1.5" fill="#8a8a8a" filter="url(#blur2)"/>
<rect x="45.50" y="370.0" width="9.80" height="4.2" rx="0.8" fill="#575757" filter="url(#blur1)"/>
<rect x="45.50" y="384.3" width="9.80" height="2.3" rx="0.6" fill="#262626" filter="url(#blur1)"/>
<rect x="57.50" y="370.0" width="9.80" height="4.2" rx="0.8" fill="#575757" filter="url(#blur1)"/>
<rect x="57.50" y="384.3" width="9.80" height="2.3" rx="0.6" fill="#262626" filter="url(#blur1)"/>
<rect x="69.40" y="370.0" width="9.10" height="4.2" rx="0.8" fill="#575757" filter="url(#blur1)"/>
<rect x="69.40" y="384.3" width="9.10" height="2.3" rx="0.6" fill="#262626" filter="url(#blur1)"/>
<text x="28.50" y="360.70" font-size="6.5" stroke="#3a3a3a" stroke-width="0.12" textLength="12.50" lengthAdjust="spacingAndGlyphs" fill="#3a3a3a">Bfl-1</text>
<line x1="81.80" y1="358.40" x2="84.00" y2="358.40" stroke="#555" stroke-width="0.8" />
<text x="89.20" y="360.70" font-size="6.4" stroke="#333" stroke-width="0.12" textLength="7.30" lengthAdjust="spacingAndGlyphs">18</text>
<text x="25.20" y="373.50" font-size="6.5" stroke="#3a3a3a" stroke-width="0.12" textLength="15.80" lengthAdjust="spacingAndGlyphs" fill="#3a3a3a">Mcl-1</text>
<line x1="81.80" y1="371.20" x2="84.00" y2="371.20" stroke="#555" stroke-width="0.8" />
<text x="89.20" y="373.50" font-size="6.4" stroke="#333" stroke-width="0.12" textLength="7.30" lengthAdjust="spacingAndGlyphs">40</text>
<text x="19.40" y="386.60" font-size="6.5" stroke="#3a3a3a" stroke-width="0.12" textLength="21.60" lengthAdjust="spacingAndGlyphs" fill="#3a3a3a">Vinculin</text>
<line x1="81.80" y1="384.30" x2="84.00" y2="384.30" stroke="#555" stroke-width="0.8" />
<text x="89.20" y="386.60" font-size="6.4" stroke="#333" stroke-width="0.12" textLength="10.80" lengthAdjust="spacingAndGlyphs">120</text>
<line x1="169.40" y1="303.60" x2="169.40" y2="406.10" stroke="#1a1a1a" stroke-width="1.3" />
<line x1="168.80" y1="405.50" x2="320.20" y2="405.50" stroke="#1a1a1a" stroke-width="1.4" />
<line x1="166.20" y1="398.50" x2="169.40" y2="398.50" stroke="#1a1a1a" stroke-width="1.2" />
<text x="159.50" y="401.10" font-size="7.0" stroke="#2e2e2e" stroke-width="0.12" textLength="3.60" lengthAdjust="spacingAndGlyphs" fill="#2e2e2e">0</text>
<line x1="166.20" y1="380.10" x2="169.40" y2="380.10" stroke="#1a1a1a" stroke-width="1.2" />
<text x="155.90" y="382.70" font-size="7.0" stroke="#2e2e2e" stroke-width="0.12" textLength="7.20" lengthAdjust="spacingAndGlyphs" fill="#2e2e2e">25</text>
<line x1="166.20" y1="361.70" x2="169.40" y2="361.70" stroke="#1a1a1a" stroke-width="1.2" />
<text x="155.90" y="364.30" font-size="7.0" stroke="#2e2e2e" stroke-width="0.12" textLength="7.20" lengthAdjust="spacingAndGlyphs" fill="#2e2e2e">50</text>
<line x1="166.20" y1="343.30" x2="169.40" y2="343.30" stroke="#1a1a1a" stroke-width="1.2" />
<text x="155.90" y="345.90" font-size="7.0" stroke="#2e2e2e" stroke-width="0.12" textLength="7.20" lengthAdjust="spacingAndGlyphs" fill="#2e2e2e">75</text>
<line x1="166.20" y1="324.90" x2="169.40" y2="324.90" stroke="#1a1a1a" stroke-width="1.2" />
<text x="152.70" y="327.50" font-size="7.0" stroke="#2e2e2e" stroke-width="0.12" textLength="10.40" lengthAdjust="spacingAndGlyphs" fill="#2e2e2e">100</text>
<line x1="166.20" y1="306.50" x2="169.40" y2="306.50" stroke="#1a1a1a" stroke-width="1.2" />
<text x="152.70" y="309.10" font-size="7.0" stroke="#2e2e2e" stroke-width="0.12" textLength="10.40" lengthAdjust="spacingAndGlyphs" fill="#2e2e2e">125</text>
<line x1="169.40" y1="405.50" x2="169.40" y2="408.30" stroke="#1a1a1a" stroke-width="1.2" />
<text x="169.40" y="416.90" font-size="6.6" stroke="#2e2e2e" stroke-width="0.12" textLength="14.90" lengthAdjust="spacingAndGlyphs" text-anchor="middle" fill="#2e2e2e">0.001</text>
<line x1="206.40" y1="405.50" x2="206.40" y2="408.30" stroke="#1a1a1a" stroke-width="1.2" />
<text x="206.40" y="416.90" font-size="6.6" stroke="#2e2e2e" stroke-width="0.12" textLength="11.50" lengthAdjust="spacingAndGlyphs" text-anchor="middle" fill="#2e2e2e">0.01</text>
<line x1="243.40" y1="405.50" x2="243.40" y2="408.30" stroke="#1a1a1a" stroke-width="1.2" />
<text x="243.40" y="416.90" font-size="6.6" stroke="#2e2e2e" stroke-width="0.12" textLength="8.00" lengthAdjust="spacingAndGlyphs" text-anchor="middle" fill="#2e2e2e">0.1</text>
<line x1="280.40" y1="405.50" x2="280.40" y2="408.30" stroke="#1a1a1a" stroke-width="1.2" />
<text x="280.40" y="416.90" font-size="6.6" stroke="#2e2e2e" stroke-width="0.12" textLength="2.80" lengthAdjust="spacingAndGlyphs" text-anchor="middle" fill="#2e2e2e">1</text>
<line x1="317.40" y1="405.50" x2="317.40" y2="408.30" stroke="#1a1a1a" stroke-width="1.2" />
<text x="317.40" y="416.90" font-size="6.6" stroke="#2e2e2e" stroke-width="0.12" textLength="6.80" lengthAdjust="spacingAndGlyphs" text-anchor="middle" fill="#2e2e2e">10</text>
<text x="201.20" y="428.90" font-size="8.6" stroke="#2e2e2e" stroke-width="0.12" textLength="86.60" lengthAdjust="spacingAndGlyphs" fill="#2e2e2e">AZD5991 concentration (µM)</text>
<text x="147.80" y="401.80" font-size="8.8" stroke="#2e2e2e" stroke-width="0.12" textLength="51.00" lengthAdjust="spacingAndGlyphs" fill="#2e2e2e" transform="rotate(-90 147.80 401.80)">Caspase activation</text>
<text x="147.80" y="348.60" font-size="8.8" stroke="#2e2e2e" stroke-width="0.12" textLength="41.80" lengthAdjust="spacingAndGlyphs" fill="#2e2e2e" transform="rotate(-90 147.80 348.60)">(% of control)</text>
<line x1="171.40" y1="361.70" x2="315.40" y2="361.70" stroke="#cfcfcf" stroke-width="0.8" stroke-dasharray="0.8,1.2"/>
<line x1="174.60" y1="309.00" x2="181.40" y2="309.00" stroke="#122c70" stroke-width="1.0" />
<path d="M175.00 309.0 L178.00 307.5 L181.00 309.0 L178.00 310.5Z" fill="#122c70"/>
<text x="183.90" y="311.00" font-size="5.9" stroke="#222" stroke-width="0.12" textLength="36.60" lengthAdjust="spacingAndGlyphs" fill="#222">pLVXIP-Flag-EV</text>
<line x1="174.60" y1="318.80" x2="181.40" y2="318.80" stroke="#a50a2a" stroke-width="1.0" />
<path d="M175.00 318.8 L178.00 317.3 L181.00 318.8 L178.00 320.3Z" fill="#a50a2a"/>
<text x="183.90" y="320.80" font-size="5.9" stroke="#222" stroke-width="0.12" textLength="48.70" lengthAdjust="spacingAndGlyphs" fill="#222">pLVXIP-Flag-BCL2A1</text>
<polyline points="174.30,398.71 175.07,398.69 175.84,398.67 176.61,398.64 177.38,398.62 178.15,398.59 178.92,398.56 179.69,398.53 180.47,398.50 181.24,398.46 182.01,398.43 182.78,398.39 183.55,398.34 184.32,398.30 185.09,398.25 185.86,398.20 186.63,398.14 187.40,398.08 188.17,398.02 188.94,397.95 189.71,397.88 190.48,397.80 191.25,397.71 192.02,397.62 192.80,397.53 193.57,397.43 194.34,397.32 195.11,397.20 195.88,397.08 196.65,396.95 197.42,396.80 198.19,396.65 198.96,396.49 199.73,396.32 200.50,396.13 201.27,395.93 202.04,395.72 202.81,395.50 203.58,395.25 204.35,395.00 205.12,394.72 205.90,394.43 206.67,394.11 207.44,393.77 208.21,393.41 208.98,393.03 209.75,392.62 210.52,392.18 211.29,391.71 212.06,391.21 212.83,390.68 213.60,390.11 214.37,389.50 215.14,388.84 215.91,388.15 216.68,387.41 217.46,386.62 218.23,385.77 219.00,384.87 219.77,383.91 220.54,382.89 221.31,381.80 222.08,380.64 222.85,379.41 223.62,378.11 224.39,376.72 225.16,375.25 225.93,373.70 226.70,372.07 227.47,370.34 228.24,368.54 229.01,366.64 229.79,364.67 230.56,362.63 231.33,360.51 232.10,358.34 232.87,356.12 233.64,353.87 234.41,351.61 235.18,349.35 235.95,347.12 236.72,344.94 237.49,342.82 238.26,340.79 239.03,338.86 239.80,337.06 240.57,335.38 241.34,333.84 242.12,332.43 242.89,331.17 243.66,330.04 244.43,329.03 245.20,328.15 245.97,327.38 246.74,326.71 247.51,326.13 248.28,325.64 249.05,325.21 249.82,324.85 250.59,324.54 251.36,324.27 252.13,324.05 252.90,323.86 253.67,323.70 254.45,323.57 255.22,323.45 255.99,323.36 256.76,323.28 257.53,323.21 258.30,323.15 259.07,323.11 259.84,323.07 260.61,323.03 261.38,323.01 262.15,322.98 262.92,322.96 263.69,322.95 264.46,322.93 265.23,322.92 266.00,322.91 266.78,322.90 267.55,322.90 268.32,322.89 269.09,322.89 269.86,322.88 270.63,322.88 271.40,322.88 272.17,322.87 272.94,322.87 273.71,322.87 274.48,322.87 275.25,322.87 276.02,322.87 276.79,322.87 277.56,322.86 278.33,322.86 279.11,322.86 279.88,322.86 280.65,322.86 281.42,322.86 282.19,322.86 282.96,322.86 283.73,322.86 284.50,322.86 285.27,322.86 286.04,322.86 286.81,322.86 287.58,322.86 288.35,322.86 289.12,322.86 289.89,322.86 290.66,322.86 291.44,322.86 292.21,322.86 292.98,322.86 293.75,322.86 294.52,322.86 295.29,322.86 296.06,322.86 296.83,322.86 297.60,322.86" fill="none" stroke="#2f4f92" stroke-width="1.1" stroke-linejoin="round" />
<circle cx="174.30" cy="399.24" r="1.4" fill="#122c70"/>
<circle cx="191.80" cy="398.35" r="1.4" fill="#122c70"/>
<line x1="209.60" y1="390.40" x2="209.60" y2="396.29" stroke="#122c70" stroke-width="0.9" />
<line x1="208.30" y1="390.40" x2="210.90" y2="390.40" stroke="#122c70" stroke-width="0.9" />
<line x1="208.30" y1="396.29" x2="210.90" y2="396.29" stroke="#122c70" stroke-width="0.9" />
<circle cx="209.60" cy="393.35" r="1.4" fill="#122c70"/>
<line x1="227.50" y1="369.80" x2="227.50" y2="374.21" stroke="#122c70" stroke-width="0.9" />
<line x1="226.20" y1="369.80" x2="228.80" y2="369.80" stroke="#122c70" stroke-width="0.9" />
<line x1="226.20" y1="374.21" x2="228.80" y2="374.21" stroke="#122c70" stroke-width="0.9" />
<circle cx="227.50" cy="372.00" r="1.4" fill="#122c70"/>
<line x1="244.50" y1="328.21" x2="244.50" y2="332.63" stroke="#122c70" stroke-width="0.9" />
<line x1="243.20" y1="328.21" x2="245.80" y2="328.21" stroke="#122c70" stroke-width="0.9" />
<line x1="243.20" y1="332.63" x2="245.80" y2="332.63" stroke="#122c70" stroke-width="0.9" />
<circle cx="244.50" cy="330.42" r="1.4" fill="#122c70"/>
<circle cx="262.50" cy="321.59" r="1.4" fill="#122c70"/>
<circle cx="280.00" cy="319.53" r="1.4" fill="#122c70"/>
<line x1="297.60" y1="321.59" x2="297.60" y2="332.63" stroke="#122c70" stroke-width="0.9" />
<line x1="296.30" y1="321.59" x2="298.90" y2="321.59" stroke="#122c70" stroke-width="0.9" />
<line x1="296.30" y1="332.63" x2="298.90" y2="332.63" stroke="#122c70" stroke-width="0.9" />
<circle cx="297.60" cy="327.11" r="1.4" fill="#122c70"/>
<polyline points="174.30,398.04 175.07,398.00 175.84,397.96 176.61,397.92 177.38,397.87 178.15,397.82 178.92,397.77 179.69,397.72 180.47,397.67 181.24,397.61 182.01,397.55 182.78,397.49 183.55,397.42 184.32,397.36 185.09,397.29 185.86,397.22 186.63,397.14 187.40,397.06 188.17,396.98 188.94,396.90 189.71,396.81 190.48,396.72 191.25,396.62 192.02,396.53 192.80,396.42 193.57,396.32 194.34,396.21 195.11,396.09 195.88,395.97 196.65,395.84 197.42,395.71 198.19,395.58 198.96,395.44 199.73,395.29 200.50,395.14 201.27,394.98 202.04,394.82 202.81,394.65 203.58,394.47 204.35,394.29 205.12,394.10 205.90,393.90 206.67,393.69 207.44,393.48 208.21,393.26 208.98,393.03 209.75,392.80 210.52,392.55 211.29,392.30 212.06,392.03 212.83,391.76 213.60,391.48 214.37,391.19 215.14,390.89 215.91,390.58 216.68,390.26 217.46,389.93 218.23,389.59 219.00,389.24 219.77,388.88 220.54,388.51 221.31,388.13 222.08,387.74 222.85,387.34 223.62,386.94 224.39,386.52 225.16,386.09 225.93,385.66 226.70,385.22 227.47,384.77 228.24,384.32 229.01,383.86 229.79,383.39 230.56,382.92 231.33,382.45 232.10,381.97 232.87,381.49 233.64,381.02 234.41,380.54 235.18,380.06 235.95,379.59 236.72,379.12 237.49,378.65 238.26,378.19 239.03,377.73 239.80,377.29 240.57,376.85 241.34,376.42 242.12,376.00 242.89,375.59 243.66,375.19 244.43,374.81 245.20,374.43 245.97,374.07 246.74,373.72 247.51,373.39 248.28,373.07 249.05,372.76 249.82,372.47 250.59,372.19 251.36,371.93 252.13,371.67 252.90,371.43 253.67,371.21 254.45,370.99 255.22,370.79 255.99,370.60 256.76,370.42 257.53,370.25 258.30,370.09 259.07,369.94 259.84,369.80 260.61,369.67 261.38,369.55 262.15,369.43 262.92,369.32 263.69,369.22 264.46,369.13 265.23,369.04 266.00,368.96 266.78,368.89 267.55,368.82 268.32,368.75 269.09,368.69 269.86,368.63 270.63,368.58 271.40,368.53 272.17,368.49 272.94,368.45 273.71,368.41 274.48,368.37 275.25,368.34 276.02,368.31 276.79,368.28 277.56,368.25 278.33,368.23 279.11,368.21 279.88,368.18 280.65,368.17 281.42,368.15 282.19,368.13 282.96,368.12 283.73,368.10 284.50,368.09 285.27,368.08 286.04,368.06 286.81,368.05 287.58,368.04 288.35,368.04 289.12,368.03 289.89,368.02 290.66,368.01 291.44,368.01 292.21,368.00 292.98,367.99 293.75,367.99 294.52,367.98 295.29,367.98 296.06,367.98 296.83,367.97 297.60,367.97" fill="none" stroke="#bd1a3c" stroke-width="1.1" stroke-linejoin="round" />
<rect x="172.95" y="396.49" width="2.7" height="2.7" fill="#a50a2a"/>
<rect x="190.45" y="395.46" width="2.7" height="2.7" fill="#a50a2a"/>
<rect x="208.25" y="392.15" width="2.7" height="2.7" fill="#a50a2a"/>
<line x1="227.50" y1="382.68" x2="227.50" y2="388.56" stroke="#a50a2a" stroke-width="0.9" />
<line x1="226.20" y1="382.68" x2="228.80" y2="382.68" stroke="#a50a2a" stroke-width="0.9" />
<line x1="226.20" y1="388.56" x2="228.80" y2="388.56" stroke="#a50a2a" stroke-width="0.9" />
<rect x="226.15" y="384.27" width="2.7" height="2.7" fill="#a50a2a"/>
<line x1="244.50" y1="372.74" x2="244.50" y2="377.16" stroke="#a50a2a" stroke-width="0.9" />
<line x1="243.20" y1="372.74" x2="245.80" y2="372.74" stroke="#a50a2a" stroke-width="0.9" />
<line x1="243.20" y1="377.16" x2="245.80" y2="377.16" stroke="#a50a2a" stroke-width="0.9" />
<rect x="243.15" y="373.60" width="2.7" height="2.7" fill="#a50a2a"/>
<rect x="261.15" y="369.18" width="2.7" height="2.7" fill="#a50a2a"/>
<line x1="280.00" y1="363.17" x2="280.00" y2="369.06" stroke="#a50a2a" stroke-width="0.9" />
<line x1="278.70" y1="363.17" x2="281.30" y2="363.17" stroke="#a50a2a" stroke-width="0.9" />
<line x1="278.70" y1="369.06" x2="281.30" y2="369.06" stroke="#a50a2a" stroke-width="0.9" />
<rect x="278.65" y="364.77" width="2.7" height="2.7" fill="#a50a2a"/>
<rect x="296.25" y="368.08" width="2.7" height="2.7" fill="#a50a2a"/>
<line x1="361.60" y1="303.60" x2="361.60" y2="406.10" stroke="#1a1a1a" stroke-width="1.3" />
<line x1="361.00" y1="405.50" x2="513.30" y2="405.50" stroke="#1a1a1a" stroke-width="1.4" />
<line x1="358.40" y1="398.50" x2="361.60" y2="398.50" stroke="#1a1a1a" stroke-width="1.2" />
<text x="351.70" y="401.10" font-size="7.0" stroke="#2e2e2e" stroke-width="0.12" textLength="3.60" lengthAdjust="spacingAndGlyphs" fill="#2e2e2e">0</text>
<line x1="358.40" y1="380.10" x2="361.60" y2="380.10" stroke="#1a1a1a" stroke-width="1.2" />
<text x="348.10" y="382.70" font-size="7.0" stroke="#2e2e2e" stroke-width="0.12" textLength="7.20" lengthAdjust="spacingAndGlyphs" fill="#2e2e2e">25</text>
<line x1="358.40" y1="361.70" x2="361.60" y2="361.70" stroke="#1a1a1a" stroke-width="1.2" />
<text x="348.10" y="364.30" font-size="7.0" stroke="#2e2e2e" stroke-width="0.12" textLength="7.20" lengthAdjust="spacingAndGlyphs" fill="#2e2e2e">50</text>
<line x1="358.40" y1="343.30" x2="361.60" y2="343.30" stroke="#1a1a1a" stroke-width="1.2" />
<text x="348.10" y="345.90" font-size="7.0" stroke="#2e2e2e" stroke-width="0.12" textLength="7.20" lengthAdjust="spacingAndGlyphs" fill="#2e2e2e">75</text>
<line x1="358.40" y1="324.90" x2="361.60" y2="324.90" stroke="#1a1a1a" stroke-width="1.2" />
<text x="344.90" y="327.50" font-size="7.0" stroke="#2e2e2e" stroke-width="0.12" textLength="10.40" lengthAdjust="spacingAndGlyphs" fill="#2e2e2e">100</text>
<line x1="358.40" y1="306.50" x2="361.60" y2="306.50" stroke="#1a1a1a" stroke-width="1.2" />
<text x="344.90" y="309.10" font-size="7.0" stroke="#2e2e2e" stroke-width="0.12" textLength="10.40" lengthAdjust="spacingAndGlyphs" fill="#2e2e2e">125</text>
<line x1="361.60" y1="405.50" x2="361.60" y2="408.30" stroke="#1a1a1a" stroke-width="1.2" />
<text x="361.60" y="416.90" font-size="6.6" stroke="#2e2e2e" stroke-width="0.12" textLength="14.90" lengthAdjust="spacingAndGlyphs" text-anchor="middle" fill="#2e2e2e">0.001</text>
<line x1="398.50" y1="405.50" x2="398.50" y2="408.30" stroke="#1a1a1a" stroke-width="1.2" />
<text x="398.50" y="416.90" font-size="6.6" stroke="#2e2e2e" stroke-width="0.12" textLength="11.50" lengthAdjust="spacingAndGlyphs" text-anchor="middle" fill="#2e2e2e">0.01</text>
<line x1="435.40" y1="405.50" x2="435.40" y2="408.30" stroke="#1a1a1a" stroke-width="1.2" />
<text x="435.40" y="416.90" font-size="6.6" stroke="#2e2e2e" stroke-width="0.12" textLength="8.00" lengthAdjust="spacingAndGlyphs" text-anchor="middle" fill="#2e2e2e">0.1</text>
<line x1="472.30" y1="405.50" x2="472.30" y2="408.30" stroke="#1a1a1a" stroke-width="1.2" />
<text x="472.30" y="416.90" font-size="6.6" stroke="#2e2e2e" stroke-width="0.12" textLength="2.80" lengthAdjust="spacingAndGlyphs" text-anchor="middle" fill="#2e2e2e">1</text>
<line x1="509.20" y1="405.50" x2="509.20" y2="408.30" stroke="#1a1a1a" stroke-width="1.2" />
<text x="509.20" y="416.90" font-size="6.6" stroke="#2e2e2e" stroke-width="0.12" textLength="6.80" lengthAdjust="spacingAndGlyphs" text-anchor="middle" fill="#2e2e2e">10</text>
<text x="393.00" y="428.90" font-size="8.6" stroke="#2e2e2e" stroke-width="0.12" textLength="86.60" lengthAdjust="spacingAndGlyphs" fill="#2e2e2e">AZD4573 concentration (µM)</text>
<text x="340.00" y="401.80" font-size="8.8" stroke="#2e2e2e" stroke-width="0.12" textLength="51.00" lengthAdjust="spacingAndGlyphs" fill="#2e2e2e" transform="rotate(-90 340.00 401.80)">Caspase activation</text>
<text x="340.00" y="348.60" font-size="8.8" stroke="#2e2e2e" stroke-width="0.12" textLength="41.80" lengthAdjust="spacingAndGlyphs" fill="#2e2e2e" transform="rotate(-90 340.00 348.60)">(% of control)</text>
<line x1="363.60" y1="361.70" x2="507.60" y2="361.70" stroke="#cfcfcf" stroke-width="0.8" stroke-dasharray="0.8,1.2"/>
<line x1="366.80" y1="309.00" x2="373.60" y2="309.00" stroke="#122c70" stroke-width="1.0" />
<path d="M367.20 309.0 L370.20 307.5 L373.20 309.0 L370.20 310.5Z" fill="#122c70"/>
<text x="376.10" y="311.00" font-size="5.9" stroke="#222" stroke-width="0.12" textLength="36.60" lengthAdjust="spacingAndGlyphs" fill="#222">pLVXIP-Flag-EV</text>
<line x1="366.80" y1="318.80" x2="373.60" y2="318.80" stroke="#a50a2a" stroke-width="1.0" />
<path d="M367.20 318.8 L370.20 317.3 L373.20 318.8 L370.20 320.3Z" fill="#a50a2a"/>
<text x="376.10" y="320.80" font-size="5.9" stroke="#222" stroke-width="0.12" textLength="48.70" lengthAdjust="spacingAndGlyphs" fill="#222">pLVXIP-Flag-BCL2A1</text>
<polyline points="366.70,398.22 367.47,398.21 368.24,398.21 369.01,398.21 369.78,398.21 370.55,398.21 371.32,398.20 372.09,398.20 372.86,398.20 373.63,398.19 374.40,398.19 375.17,398.18 375.94,398.17 376.71,398.17 377.48,398.16 378.25,398.15 379.02,398.14 379.79,398.13 380.56,398.12 381.33,398.10 382.10,398.08 382.87,398.06 383.64,398.04 384.41,398.02 385.18,397.99 385.95,397.96 386.72,397.92 387.49,397.88 388.26,397.83 389.03,397.78 389.80,397.72 390.57,397.65 391.34,397.57 392.11,397.48 392.88,397.38 393.65,397.27 394.42,397.14 395.19,396.99 395.96,396.82 396.73,396.63 397.50,396.41 398.27,396.16 399.04,395.88 399.81,395.56 400.58,395.20 401.35,394.79 402.12,394.33 402.89,393.80 403.66,393.19 404.43,392.51 405.20,391.73 405.97,390.85 406.74,389.85 407.51,388.71 408.28,387.42 409.05,385.96 409.82,384.29 410.59,382.40 411.36,380.26 412.13,377.84 412.90,375.11 413.67,372.04 414.44,368.61 415.21,364.82 415.98,360.70 416.75,356.34 417.52,351.90 418.29,347.59 419.06,343.70 419.83,340.43 420.60,337.89 421.37,336.05 422.14,334.79 422.91,333.97 423.68,333.44 424.45,333.12 425.22,332.92 425.99,332.79 426.76,332.72 427.53,332.68 428.30,332.65 429.07,332.63 429.84,332.62 430.61,332.62 431.38,332.61 432.15,332.61 432.92,332.61 433.69,332.61 434.46,332.61 435.23,332.61 436.00,332.61 436.77,332.61 437.54,332.61 438.31,332.61 439.08,332.61 439.85,332.61 440.62,332.61 441.39,332.61 442.16,332.61 442.93,332.61 443.70,332.61 444.47,332.61 445.24,332.61 446.01,332.61 446.78,332.61 447.55,332.61 448.32,332.61 449.09,332.61 449.86,332.61 450.63,332.61 451.40,332.61 452.17,332.61 452.94,332.61 453.71,332.61 454.48,332.61 455.25,332.61 456.02,332.61 456.79,332.61 457.56,332.61 458.33,332.61 459.10,332.61 459.87,332.61 460.64,332.61 461.41,332.61 462.18,332.61 462.95,332.61 463.72,332.61 464.49,332.61 465.26,332.61 466.03,332.61 466.80,332.61 467.57,332.61 468.34,332.61 469.11,332.61 469.88,332.61 470.65,332.61 471.42,332.61 472.19,332.61 472.96,332.61 473.73,332.61 474.50,332.61 475.27,332.61 476.04,332.61 476.81,332.61 477.58,332.61 478.35,332.61 479.12,332.61 479.89,332.61 480.66,332.61 481.43,332.61 482.20,332.61 482.97,332.61 483.74,332.61 484.51,332.61 485.28,332.61 486.05,332.61 486.82,332.61 487.59,332.61 488.36,332.61 489.13,332.61 489.90,332.61" fill="none" stroke="#2f4f92" stroke-width="1.1" stroke-linejoin="round" />
<circle cx="366.70" cy="398.50" r="1.4" fill="#122c70"/>
<circle cx="384.30" cy="397.98" r="1.4" fill="#122c70"/>
<line x1="401.90" y1="393.27" x2="401.90" y2="399.16" stroke="#122c70" stroke-width="0.9" />
<line x1="400.60" y1="393.27" x2="403.20" y2="393.27" stroke="#122c70" stroke-width="0.9" />
<line x1="400.60" y1="399.16" x2="403.20" y2="399.16" stroke="#122c70" stroke-width="0.9" />
<circle cx="401.90" cy="396.22" r="1.4" fill="#122c70"/>
<line x1="419.60" y1="339.25" x2="419.60" y2="346.61" stroke="#122c70" stroke-width="0.9" />
<line x1="418.30" y1="339.25" x2="420.90" y2="339.25" stroke="#122c70" stroke-width="0.9" />
<line x1="418.30" y1="346.61" x2="420.90" y2="346.61" stroke="#122c70" stroke-width="0.9" />
<circle cx="419.60" cy="342.93" r="1.4" fill="#122c70"/>
<line x1="437.20" y1="323.06" x2="437.20" y2="330.42" stroke="#122c70" stroke-width="0.9" />
<line x1="435.90" y1="323.06" x2="438.50" y2="323.06" stroke="#122c70" stroke-width="0.9" />
<line x1="435.90" y1="330.42" x2="438.50" y2="330.42" stroke="#122c70" stroke-width="0.9" />
<circle cx="437.20" cy="326.74" r="1.4" fill="#122c70"/>
<circle cx="455.00" cy="330.27" r="1.4" fill="#122c70"/>
<circle cx="472.60" cy="335.94" r="1.4" fill="#122c70"/>
<line x1="489.90" y1="330.27" x2="489.90" y2="344.99" stroke="#122c70" stroke-width="0.9" />
<line x1="488.60" y1="330.27" x2="491.20" y2="330.27" stroke="#122c70" stroke-width="0.9" />
<line x1="488.60" y1="344.99" x2="491.20" y2="344.99" stroke="#122c70" stroke-width="0.9" />
<circle cx="489.90" cy="337.63" r="1.4" fill="#122c70"/>
<polyline points="366.70,399.09 367.47,399.08 368.24,399.08 369.01,399.08 369.78,399.08 370.55,399.08 371.32,399.08 372.09,399.08 372.86,399.08 373.63,399.08 374.40,399.08 375.17,399.08 375.94,399.08 376.71,399.08 377.48,399.08 378.25,399.08 379.02,399.08 379.79,399.07 380.56,399.07 381.33,399.07 382.10,399.07 382.87,399.06 383.64,399.06 384.41,399.05 385.18,399.05 385.95,399.04 386.72,399.03 387.49,399.03 388.26,399.02 389.03,399.00 389.80,398.99 390.57,398.97 391.34,398.95 392.11,398.93 392.88,398.90 393.65,398.87 394.42,398.83 395.19,398.78 395.96,398.73 396.73,398.67 397.50,398.59 398.27,398.51 399.04,398.41 399.81,398.29 400.58,398.14 401.35,397.98 402.12,397.78 402.89,397.56 403.66,397.29 404.43,396.97 405.20,396.60 405.97,396.16 406.74,395.65 407.51,395.04 408.28,394.33 409.05,393.49 409.82,392.51 410.59,391.36 411.36,390.01 412.13,388.42 412.90,386.57 413.67,384.41 414.44,381.91 415.21,379.02 415.98,375.73 416.75,372.04 417.52,368.00 418.29,363.71 419.06,359.35 419.83,355.15 420.60,351.36 421.37,348.15 422.14,345.59 422.91,343.68 423.68,342.30 424.45,341.35 425.22,340.70 425.99,340.27 426.76,339.99 427.53,339.81 428.30,339.69 429.07,339.61 429.84,339.56 430.61,339.53 431.38,339.51 432.15,339.50 432.92,339.49 433.69,339.48 434.46,339.48 435.23,339.48 436.00,339.48 436.77,339.47 437.54,339.47 438.31,339.47 439.08,339.47 439.85,339.47 440.62,339.47 441.39,339.47 442.16,339.47 442.93,339.47 443.70,339.47 444.47,339.47 445.24,339.47 446.01,339.47 446.78,339.47 447.55,339.47 448.32,339.47 449.09,339.47 449.86,339.47 450.63,339.47 451.40,339.47 452.17,339.47 452.94,339.47 453.71,339.47 454.48,339.47 455.25,339.47 456.02,339.47 456.79,339.47 457.56,339.47 458.33,339.47 459.10,339.47 459.87,339.47 460.64,339.47 461.41,339.47 462.18,339.47 462.95,339.47 463.72,339.47 464.49,339.47 465.26,339.47 466.03,339.47 466.80,339.47 467.57,339.47 468.34,339.47 469.11,339.47 469.88,339.47 470.65,339.47 471.42,339.47 472.19,339.47 472.96,339.47 473.73,339.47 474.50,339.47 475.27,339.47 476.04,339.47 476.81,339.47 477.58,339.47 478.35,339.47 479.12,339.47 479.89,339.47 480.66,339.47 481.43,339.47 482.20,339.47 482.97,339.47 483.74,339.47 484.51,339.47 485.28,339.47 486.05,339.47 486.82,339.47 487.59,339.47 488.36,339.47 489.13,339.47 489.90,339.47" fill="none" stroke="#bd1a3c" stroke-width="1.1" stroke-linejoin="round" />
<rect x="365.35" y="397.74" width="2.7" height="2.7" fill="#a50a2a"/>
<rect x="382.95" y="398.25" width="2.7" height="2.7" fill="#a50a2a"/>
<rect x="400.55" y="396.12" width="2.7" height="2.7" fill="#a50a2a"/>
<line x1="419.60" y1="357.65" x2="419.60" y2="365.01" stroke="#a50a2a" stroke-width="0.9" />
<line x1="418.30" y1="357.65" x2="420.90" y2="357.65" stroke="#a50a2a" stroke-width="0.9" />
<line x1="418.30" y1="365.01" x2="420.90" y2="365.01" stroke="#a50a2a" stroke-width="0.9" />
<rect x="418.25" y="359.98" width="2.7" height="2.7" fill="#a50a2a"/>
<rect x="435.85" y="335.11" width="2.7" height="2.7" fill="#a50a2a"/>
<line x1="455.00" y1="337.41" x2="455.00" y2="343.30" stroke="#a50a2a" stroke-width="0.9" />
<line x1="453.70" y1="337.41" x2="456.30" y2="337.41" stroke="#a50a2a" stroke-width="0.9" />
<line x1="453.70" y1="343.30" x2="456.30" y2="343.30" stroke="#a50a2a" stroke-width="0.9" />
<rect x="453.65" y="339.01" width="2.7" height="2.7" fill="#a50a2a"/>
<line x1="472.60" y1="337.04" x2="472.60" y2="344.40" stroke="#a50a2a" stroke-width="0.9" />
<line x1="471.30" y1="337.04" x2="473.90" y2="337.04" stroke="#a50a2a" stroke-width="0.9" />
<line x1="471.30" y1="344.40" x2="473.90" y2="344.40" stroke="#a50a2a" stroke-width="0.9" />
<rect x="471.25" y="339.37" width="2.7" height="2.7" fill="#a50a2a"/>
<line x1="489.90" y1="335.79" x2="489.90" y2="349.04" stroke="#a50a2a" stroke-width="0.9" />
<line x1="488.60" y1="335.79" x2="491.20" y2="335.79" stroke="#a50a2a" stroke-width="0.9" />
<line x1="488.60" y1="349.04" x2="491.20" y2="349.04" stroke="#a50a2a" stroke-width="0.9" />
<rect x="488.55" y="341.07" width="2.7" height="2.7" fill="#a50a2a"/>
<rect x="0.5" y="0.5" width="519" height="437" fill="none" stroke="#000" stroke-width="1.2"/>
</svg>
</body></html>
